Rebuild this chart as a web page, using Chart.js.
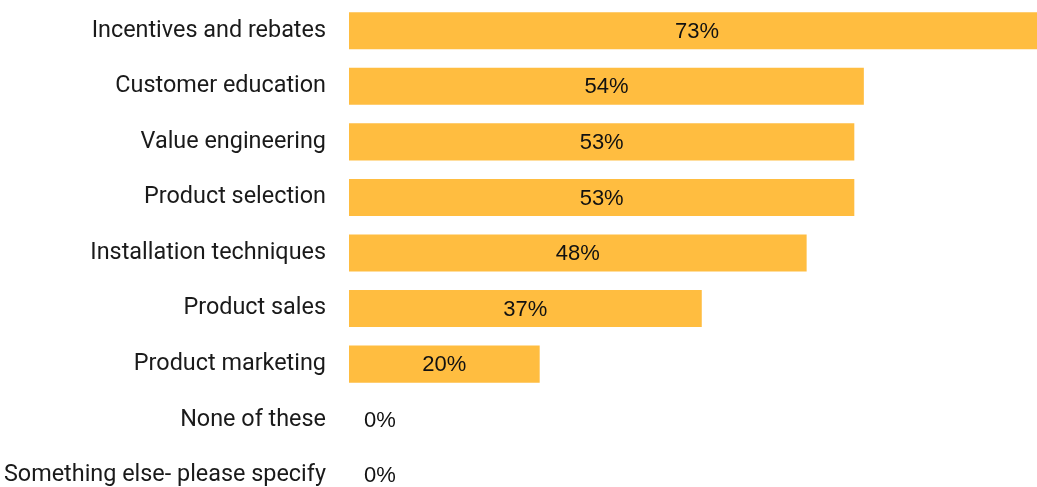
<!DOCTYPE html>
<html>
<head>
<meta charset="utf-8">
<script src="https://cdn.jsdelivr.net/npm/chart.js@4/dist/chart.umd.min.js"></script>
<style>
  html, body { margin: 0; padding: 0; background: #ffffff; overflow: hidden; }
  canvas { display: block; }
</style>
</head>
<body>
<canvas id="chart" width="1045" height="505"></canvas>
<script>
const categories = [
  'Incentives and rebates',
  'Customer education',
  'Value engineering',
  'Product selection',
  'Installation techniques',
  'Product sales',
  'Product marketing',
  'None of these',
  'Something else- please specify'
];
const shares = [73, 54, 53, 53, 48, 37, 20, 0, 0];

const LABEL_FONT = 'Roboto, "Open Sans", sans-serif';
const VALUE_FONT = '"Liberation Sans", Arial, sans-serif';

// Writes each bar's percentage inside it; empty bars get the label just right of the axis.
const valueLabels = {
  id: 'valueLabels',
  afterDatasetsDraw(chart) {
    const ctx = chart.ctx;
    const meta = chart.getDatasetMeta(0);
    ctx.save();
    ctx.font = '22px ' + VALUE_FONT;
    ctx.fillStyle = '#111111';
    ctx.textBaseline = 'middle';
    meta.data.forEach((bar, i) => {
      const v = shares[i];
      const text = v + '%';
      if (v === 0) {
        ctx.textAlign = 'left';
        ctx.fillText(text, bar.base + 15, bar.y + 1);
      } else {
        ctx.textAlign = 'center';
        ctx.fillText(text, (bar.base + bar.x) / 2, bar.y + 1);
      }
    });
    ctx.restore();
  }
};

new Chart(document.getElementById('chart'), {
  type: 'bar',
  data: {
    labels: categories,
    datasets: [{
      data: shares,
      backgroundColor: '#FFBD40',
      borderWidth: 0,
      barPercentage: 0.667,
      categoryPercentage: 1.0
    }]
  },
  options: {
    indexAxis: 'y',
    responsive: false,
    animation: false,
    layout: { autoPadding: false, padding: { top: 3, bottom: 2, left: 0, right: 0 } },
    plugins: {
      legend: { display: false },
      tooltip: { enabled: false }
    },
    scales: {
      x: {
        display: false,
        min: 0,
        max: 73
      },
      y: {
        grid: { display: false, drawTicks: false },
        border: { display: false },
        ticks: {
          padding: 23,
          color: '#1a1a1a',
          font: { family: LABEL_FONT, size: 23.4 }
        },
        afterFit(scale) {
          // fixed label column; no extra room above or below the bars
          scale.width = 349;
          scale.paddingTop = 0;
          scale.paddingBottom = 0;
        }
      }
    }
  },
  plugins: [valueLabels]
});
</script>
</body>
</html>
